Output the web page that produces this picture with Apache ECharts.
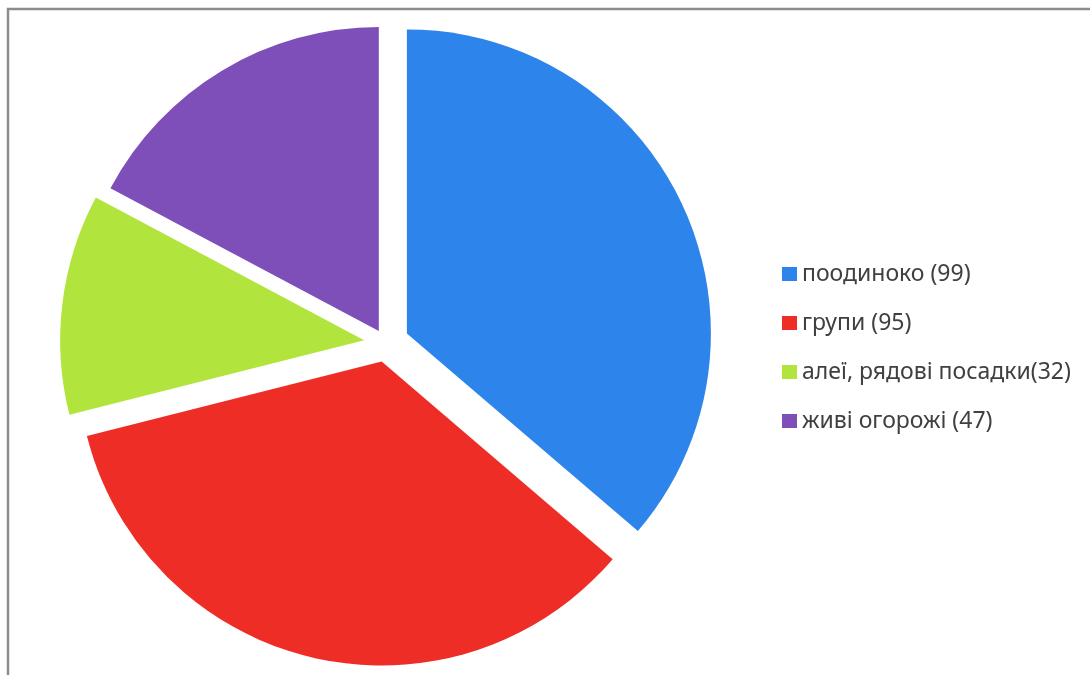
<!DOCTYPE html>
<html>
<head>
<meta charset="utf-8">
<script src="https://cdn.jsdelivr.net/npm/echarts@6/dist/echarts.min.js"></script>
<style>
  html, body { margin: 0; padding: 0; background: #fff; }
  #chart { width: 1090px; height: 675px; }
</style>
</head>
<body>
<div id="chart"></div>
<script>
// Categories of plantings and their counts
const categories = ['поодиноко ', 'групи ', 'алеї, рядові посадки', 'живі огорожі '];
const counts = [99, 95, 32, 47];
const colors = ['#2d84ea', '#ee2d26', '#b1e53e', '#7e4fb9'];
// how far each slice is pulled out of the pie
const explode = [23, 19, 22, 14];

const chart = echarts.init(document.getElementById('chart'), null, { renderer: 'canvas' });

const legendNames = categories.map((c, i) => c + '(' + counts[i] + ')');

// One pie layer per slice, so every slice can have its own pull-out distance;
// the other slices of that layer are left transparent.
const layers = counts.map((_, k) => ({
  type: 'pie',
  center: [386, 343],
  radius: 304,
  startAngle: 90,
  clockwise: true,
  selectedMode: 'multiple',
  selectedOffset: explode[k],
  silent: true,
  label: { show: false },
  labelLine: { show: false },
  emphasis: { disabled: true },
  data: counts.map((v, j) => ({
    name: legendNames[j],
    value: v,
    selected: j === k,
    itemStyle: { color: j === k ? colors[j] : 'rgba(0,0,0,0)', borderWidth: 0 }
  }))
}));

chart.setOption({
  animation: false,
  legend: {
    orient: 'vertical',
    left: 777,
    top: 255,
    itemWidth: 15,
    itemHeight: 14,
    itemGap: 21,
    icon: 'rect',
    selectedMode: false,
    textStyle: {
      fontFamily: 'Noto Sans',
      fontSize: 23,
      lineHeight: 28,
      color: '#404040'
    },
    data: legendNames.map((n, i) => ({ name: n, itemStyle: { color: colors[i] } }))
  },
  graphic: [{
    type: 'polyline',
    shape: { points: [[8, 675], [8, 9], [1090, 9]] },
    style: { stroke: '#8c8c8c', lineWidth: 2.5, fill: null },
    silent: true
  }],
  series: layers
});
</script>
</body>
</html>
